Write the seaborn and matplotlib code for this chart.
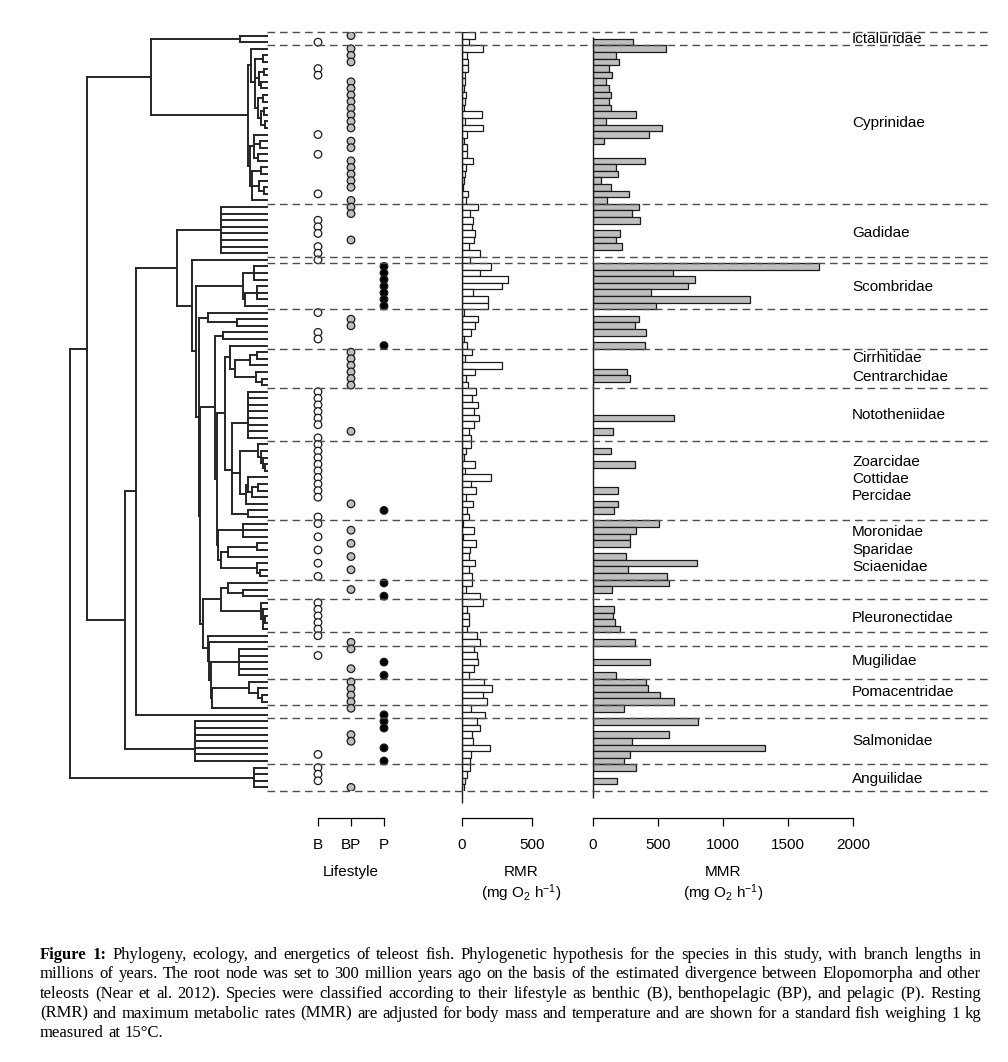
import numpy as np
import pandas as pd
import matplotlib
matplotlib.use("Agg")
import matplotlib.pyplot as plt
from matplotlib.collections import LineCollection
import seaborn as sns

# ---------------- data (rows listed top -> bottom) ----------------
group_sizes = [2, 24, 8, 1, 7, 6, 6, 8, 12, 9, 3, 5, 2, 5, 4, 2, 7, 4]

lifestyle_levels = ["B", "BP", "P"]
lifestyle = (
    "BP B "
    "BP BP BP B B BP BP BP BP BP BP BP BP B BP BP B BP BP BP BP BP B BP "
    "BP BP B B B BP B B "
    "B "
    "P P P P P P P "
    "B BP BP B B P "
    "BP BP BP BP BP BP "
    "B B B B B B BP B "
    "B B B B B B B B B BP P B "
    "B BP B BP B BP B BP B "
    "P BP P "
    "B B B B B "
    "B BP "
    "BP B P BP P "
    "BP BP BP BP "
    "BP P "
    "P P BP BP P B P "
    "B B B BP"
).split()

rmr = [93, 50,
       152, 38, 43, 40, 21, 24, 14, 28, 21, 14, 145, 24, 152, 33, 14, 38, 33, 81, 28, 21, 14, 10, 45, 28,
       117, 57, 76, 74, 93, 86, 52, 129,
       57,
       207, 129, 326, 283, 79, 183, 183,
       17, 117, 90, 62, 17, 38,
       71, 21, 283, 95, 31, 40,
       98, 74, 112, 88, 119, 83, 48, 62,
       62, 31, 17, 95, 21, 210, 64, 100, 26, 81, 38, 52,
       8, 88, 10, 100, 57, 48, 95, 48, 74,
       74, 25, 129,
       152, 38, 48, 48, 36,
       105, 129,
       88, 105, 117, 86, 48,
       157, 212, 152, 179,
       62, 167,
       105, 126, 74, 79, 198, 64, 60,
       55, 36, 21, 17]

nan = np.nan
mmr = [nan, 310,
       562, 180, 197, 120, 149, 100, 123, 141, 120, 141, 333, 97, 533, 431, 85, nan, nan, 403, 180, 192, 62, 136, 274, 110,
       354, 303, 364, nan, 210, 180, 226, nan,
       nan,
       1736, 618, 787, 733, 449, 1205, 487,
       nan, 356, 326, 405, nan, 403,
       nan, nan, nan, 264, 287, nan,
       nan, nan, nan, nan, 620, nan, 156, nan,
       nan, 138, nan, 323, nan, nan, nan, 190, nan, 192, 164, nan,
       508, 333, 285, 285, nan, 256, 797, 272, 572,
       582, 149, nan,
       nan, 164, 151, 169, 205,
       nan, 321,
       nan, nan, 436, nan, 174,
       410, 426, 518, 623,
       238, nan,
       810, nan, 582, 300, 1320, 282, 241,
       328, nan, 187, nan]

family_names = ["Ictaluridae", "Cyprinidae", "Gadidae", "Scombridae", "Cirrhitidae",
                "Centrarchidae", "Nototheniidae", "Zoarcidae", "Cottidae", "Percidae",
                "Moronidae", "Sparidae", "Sciaenidae", "Pleuronectidae", "Mugilidae",
                "Pomacentridae", "Salmonidae", "Anguilidae"]
family_rows = [0.5, 13.2, 29.9, 38.1, 48.9, 51.8, 57.5, 64.6, 67.2, 69.8,
               75.3, 78.0, 80.6, 88.3, 94.8, 99.5, 107.0, 112.8]

# phylogeny: (node age in My, [children]); integers are tip rows
cyp_top = (24, [2, (18, [(6, [3, 4]), (12, [(4, [5, 6]), (8, [7, 8])]),
                         (14, [(5, [9, 10]), (9, [(4, [11, 12]), (3, [13, 14])])])])])
cyp_bot = (25, [(20, [15, (10, [16, 17]), (14, [18, 19])]),
                (22, [(8, [20, 21]), (12, [22, (4, [23, 24])]), 25])])
scombr = (36, [(20, [35, 36, 37]), (33, [(15, [38, 39, 40]), 41])])
cirr_centr = (56, [47, (48, [(26, [(15, [48, 49]), 50]), (16, [51, (7, [52, 53])])])])
notothen = (28, [(28, [54, 55, 56, 57]), 58, 59, 60, 61])
zoarc = (14, [62, (9, [63, (6, [64, (3, [65, 66])])])])
cott = (28, [67, (22, [(13, [68, 69]), 70])])
perc_grp = (53, [notothen, (41, [zoarc, (31, [cott, 71])]), (28, [72, 73])])
moro_sci = (74, [(36, [74, 75, 76]),
                 (69, [(59, [(15, [77, 78]), 79]), (15, [80, (10, [81, 82])])])])
lower = (97, [(69, [(59, [83, (36, [84, 85])]), (8, [86, (6, [87, (3, [88, 89]), 90])])]),
              (90, [91, (88, [92, (85, [(43, [93, 94, 95, 96, 97]),
                                        (83, [(27, [98, (14, [99, (7, [100, 101])])]), 102])])])])])
tree = (300, [
    (274, [
        (177, [(41, [0, 1]), (28, [cyp_top, cyp_bot])]),
        (216, [
            (200, [
                (137, [
                    (69, [26, 27, 28, 29, 30, 31, 32, 33]),
                    (114, [34, (108, [scombr,
                                      (104, [(89, [42, (45, [43, 44])]),
                                             (102, [(79, [(66, [45, 46]),
                                                          (76, [(63, [cirr_centr, perc_grp]), moro_sci])]),
                                                    lower])])])]),
                ]),
                103]),
            (109, [(109, [104, 105, 106, 107]), 108, 109, 110]),
        ]),
    ]),
    (20, [111, 112, 113, 114]),
])

caption_lines = [
    "Figure 1: Phylogeny, ecology, and energetics of teleost fish. Phylogenetic hypothesis for the species in this study, with branch lengths in",
    "millions of years. The root node was set to 300 million years ago on the basis of the estimated divergence between Elopomorpha and other",
    "teleosts (Near et al. 2012). Species were classified according to their lifestyle as benthic (B), benthopelagic (BP), and pelagic (P). Resting",
    "(RMR) and maximum metabolic rates (MMR) are adjusted for body mass and temperature and are shown for a standard fish weighing 1 kg",
    "measured at 15\u00b0C.",
]

# ---------------- styling ----------------
sns.set_style("white", rc={"axes.edgecolor": "black", "text.color": "black",
                           "xtick.color": "black", "axes.labelcolor": "black"})
plt.rcParams["font.family"] = ["Liberation Sans", "DejaVu Sans"]
plt.rcParams["mathtext.fontset"] = "custom"
plt.rcParams["mathtext.rm"] = "Liberation Sans"
plt.rcParams["mathtext.it"] = "Liberation Sans:italic"

n = len(lifestyle)
rows = np.arange(n)
df = pd.DataFrame({"row": rows, "lifestyle": lifestyle, "rmr": rmr, "mmr": mmr})
df["lpos"] = df["lifestyle"].map({k: i for i, k in enumerate(lifestyle_levels)})

W, H = 1008, 1062
fig = plt.figure(figsize=(W / 100, H / 100), dpi=100)
TOP, BOT = 32.3, 790.7


def px_axes(x0, x1):
    ax = fig.add_axes([x0 / W, 1 - BOT / H, (x1 - x0) / W, (BOT - TOP) / H])
    ax.patch.set_alpha(0)
    return ax


def bottom_axis(ax, ticks, labels, label):
    for s in ["top", "right", "left"]:
        ax.spines[s].set_visible(False)
    ax.spines["bottom"].set_position(("outward", 27.5 * 0.72))
    ax.spines["bottom"].set_bounds(ticks[0], ticks[-1])
    ax.spines["bottom"].set_linewidth(0.9)
    ax.set_xticks(ticks)
    ax.set_xticklabels(labels)
    ax.tick_params(axis="x", direction="out", length=6, width=0.9, pad=8, labelsize=11, bottom=True)
    ax.set_yticks([])
    ax.set_ylabel("")
    ax.set_xlabel(label, fontsize=11, labelpad=9.5, linespacing=1.2)
    ax.set_ylim(n - 0.5, -0.5)


# ---- tree ----
ax_tree = px_axes(70, 266.7)
segs = []


def walk(node):
    if isinstance(node, int):
        return float(node), 0.0
    age, kids = node
    ys = []
    for k in kids:
        ky, kage = walk(k)
        segs.append([(age, ky), (kage, ky)])
        ys.append(ky)
    segs.append([(age, min(ys)), (age, max(ys))])
    return sum(ys) / len(ys), age


walk(tree)
ax_tree.add_collection(LineCollection(segs, colors="#262626", linewidths=1.4,
                                      capstyle="projecting", clip_on=False))
ax_tree.set_xlim(300, 0)
ax_tree.set_ylim(n - 0.5, -0.5)
ax_tree.axis("off")

# ---- lifestyle ----
ax_life = px_axes(298.2, 403.8)
sns.scatterplot(data=df, x="lpos", y="row", hue="lifestyle", hue_order=lifestyle_levels,
                palette={"B": "white", "BP": "#bebebe", "P": "black"},
                s=30, edgecolor="#1a1a1a", linewidth=0.9, legend=False, ax=ax_life, zorder=3)
ax_life.set_xlim(-0.6, 2.6)
bottom_axis(ax_life, [0, 1, 2], lifestyle_levels, "Lifestyle")

# ---- RMR ----
ax_rmr = px_axes(462, 581)
sns.barplot(data=df, x="rmr", y="row", orient="h", native_scale=True, width=1.0,
            color="white", saturation=1, edgecolor="#1a1a1a", linewidth=0.9,
            errorbar=None, ax=ax_rmr)
ax_rmr.vlines(0, -0.5, n + 1.3, color="#1a1a1a", lw=1.0, clip_on=False)
ax_rmr.set_xlim(0, 850)
bottom_axis(ax_rmr, [0, 500], ["0", "500"], "RMR\n(mg O$_2$ h$^{-1}$)")

# ---- MMR ----
ax_mmr = px_axes(593, 853)
sns.barplot(data=df.dropna(subset=["mmr"]), x="mmr", y="row", orient="h", native_scale=True,
            width=1.0, color="#bebebe", saturation=1, edgecolor="#1a1a1a", linewidth=0.9,
            errorbar=None, ax=ax_mmr)
ax_mmr.vlines(0, 0.2, n + 0.6, color="#1a1a1a", lw=1.0, clip_on=False)
ax_mmr.set_xlim(0, 2000)
bottom_axis(ax_mmr, [0, 500, 1000, 1500, 2000], ["0", "500", "1000", "1500", "2000"],
            "MMR\n(mg O$_2$ h$^{-1}$)")

# ---- family separators and names ----
ax_sep = px_axes(267, 990)
ax_sep.set_zorder(5)
bounds = np.concatenate([[0], np.cumsum(group_sizes)]) - 0.5
for b in bounds:
    ax_sep.axhline(b, color="#4d4d4d", lw=1.0, ls=(0, (5.5, 3.5)), clip_on=False)
for name, r in zip(family_names, family_rows):
    ax_sep.text((852 - 267) / (990 - 267), r, name, transform=ax_sep.get_yaxis_transform(),
                ha="left", va="center", fontsize=11)
ax_sep.set_xlim(0, 1)
ax_sep.set_ylim(n - 0.5, -0.5)
ax_sep.axis("off")

# ---- caption (justified) ----
renderer = fig.canvas.get_renderer()
cap_x0, cap_x1 = 40, 981
cap_base = [959, 978.5, 998, 1017.5, 1037]
for li, (line, yb) in enumerate(zip(caption_lines, cap_base)):
    words = line.split(" ")
    arts = []
    for wi, w in enumerate(words):
        bold = li == 0 and wi < 2
        arts.append(fig.text(0, 1 - yb / H, w, fontsize=12, family="Liberation Serif",
                             fontweight="bold" if bold else "normal", va="baseline", ha="left"))
    widths = [a.get_window_extent(renderer).width for a in arts]
    if li < len(caption_lines) - 1:
        gap = max((cap_x1 - cap_x0 - sum(widths)) / (len(words) - 1), 2.0)
    else:
        gap = 4.2
    x = cap_x0
    for a, w in zip(arts, widths):
        a.set_x(x / W)
        x += w + gap

fig.savefig("out.png", dpi=100)
